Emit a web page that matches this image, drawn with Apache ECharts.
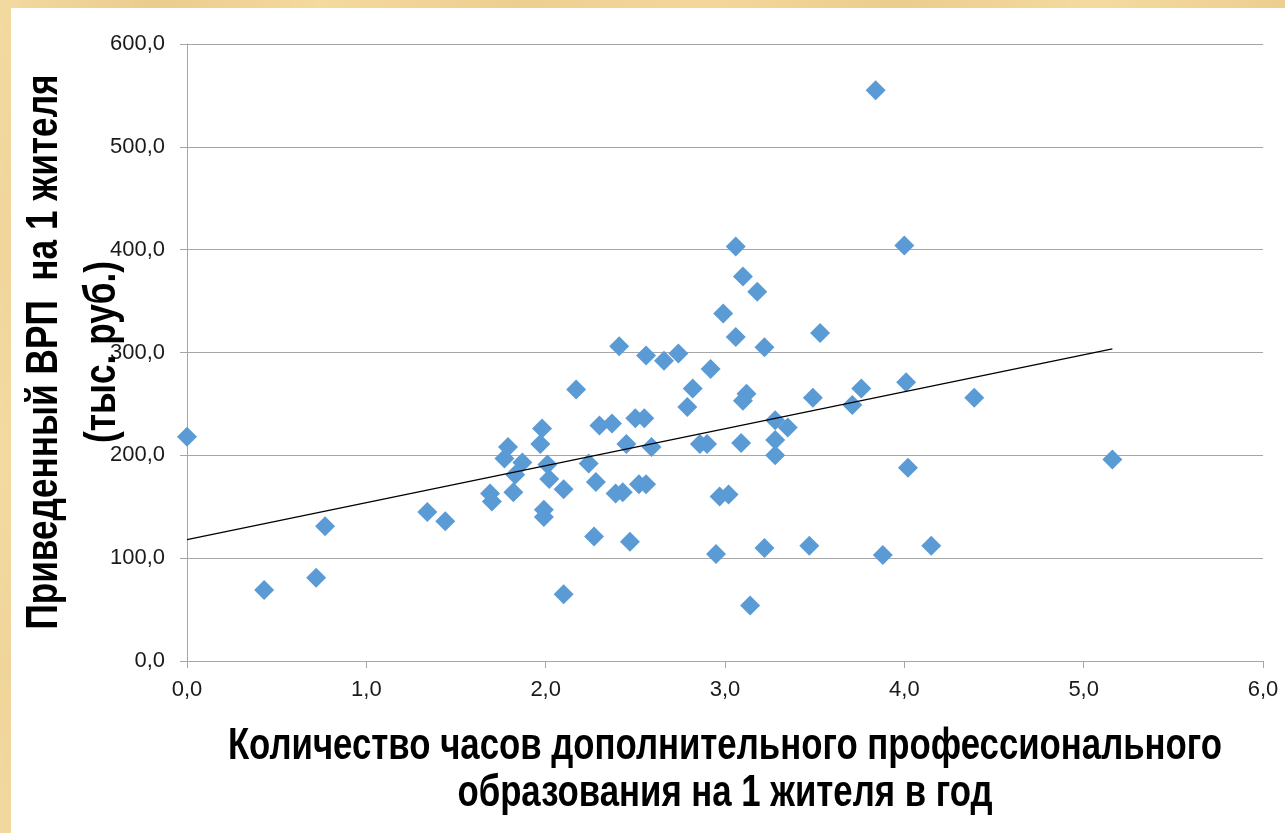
<!DOCTYPE html>
<html>
<head>
<meta charset="utf-8">
<script src="https://cdn.jsdelivr.net/npm/echarts@6/dist/echarts.min.js"></script>
<style>
html,body{margin:0;padding:0;width:1285px;height:833px;overflow:hidden;}
body{background:#ecd097;
background-image:
 linear-gradient(90deg, rgba(245,222,165,0.6) 0%, rgba(225,190,120,0.35) 12%, rgba(250,225,160,0.5) 25%, rgba(230,195,125,0.3) 40%, rgba(248,220,155,0.5) 55%, rgba(228,192,120,0.35) 70%, rgba(250,226,165,0.5) 85%, rgba(232,198,130,0.4) 100%),
 linear-gradient(0deg, rgba(240,210,150,0.5) 0%, rgba(225,188,118,0.35) 20%, rgba(245,220,160,0.45) 45%, rgba(228,192,125,0.35) 70%, rgba(242,215,155,0.5) 100%);}
#paper{position:absolute;left:11px;top:8px;right:0;bottom:0;background:#fff;}
#chart{position:absolute;left:0;top:0;width:1285px;height:833px;}
</style>
</head>
<body>
<div id="paper"></div>
<div id="chart"></div>
<script>
// Hours of additional professional education per inhabitant per year
const xValues = [0.00,0.43,0.72,0.77,1.34,1.44,1.69,1.70,1.77,1.79,1.83,1.82,1.87,1.97,1.98,1.99,1.99,2.01,2.02,2.10,2.10,2.17,2.24,2.28,2.27,2.30,2.37,2.39,2.41,2.43,2.45,2.47,2.50,2.52,2.55,2.56,2.56,2.59,2.66,2.74,2.79,2.82,2.86,2.90,2.92,2.95,2.99,2.97,3.02,3.06,3.06,3.09,3.10,3.10,3.12,3.14,3.18,3.22,3.22,3.28,3.28,3.28,3.35,3.47,3.49,3.53,3.71,3.76,3.84,3.88,4.00,4.01,4.02,4.15,4.39,5.16];
// Adjusted GRP per inhabitant (thousand rubles)
const yValues = [218,69,81,131,145,136,163,155,197,208,181,164,193,211,226,140,147,191,177,167,65,264,192,174,121,229,231,163,306,164,211,116,236,172,236,172,297,208,292,299,247,265,211,211,284,104,338,160,162,403,315,212,374,253,260,54,359,305,110,234,215,200,227,112,256,319,249,265,555,103,404,271,188,112,256,196];
// Linear trend line endpoints
const trendX = [0, 5.16];
const trendY = [118, 303.5];
const xTicks = [0,1,2,3,4,5,6];
const yTicks = [0,100,200,300,400,500,600];

const points = xValues.map((x,i)=>[x, yValues[i]]);
const trend = trendX.map((x,i)=>[x, trendY[i]]);
const fmt = v => v.toFixed(1).replace('.', ',');
const labelFont = '"Liberation Sans", Arial, sans-serif';

const chart = echarts.init(document.getElementById('chart'), null, {renderer:'canvas'});
chart.setOption({
  backgroundColor: 'transparent',
  animation: false,
  grid: {left:187, right:22, top:44, bottom:172},
  xAxis: {
    type:'value', min:xTicks[0], max:xTicks[xTicks.length-1], interval:1,
    axisLine:{show:true, onZero:false, lineStyle:{color:'#a6a6a6', width:1}},
    axisTick:{show:true, length:7, lineStyle:{color:'#a6a6a6'}},
    splitLine:{show:false},
    axisLabel:{formatter:fmt, color:'#1a1a1a', fontSize:22, fontFamily:labelFont, margin:18}
  },
  yAxis: {
    type:'value', min:yTicks[0], max:yTicks[yTicks.length-1], interval:100,
    axisLine:{show:true, lineStyle:{color:'#a6a6a6', width:1}},
    axisTick:{show:true, length:7, lineStyle:{color:'#a6a6a6'}},
    splitLine:{show:true, lineStyle:{color:'#a6a6a6', width:1}},
    axisLabel:{formatter:fmt, color:'#1a1a1a', fontSize:22, fontFamily:labelFont, margin:22}
  },
  series: [
    {type:'scatter', data:points, symbol:'diamond', symbolSize:20,
     itemStyle:{color:'#5b9bd5', opacity:1}, z:3},
    {type:'line', data:trend, symbol:'none', lineStyle:{color:'#000', width:1.3}, z:4, silent:true}
  ],
  graphic: [
    {type:'text', x:74, y:352, rotation:Math.PI/2, scaleX:0.80, z:10,
     style:{text:'Приведенный ВРП  на 1 жителя\n(тыс. руб.)', textAlign:'center', textVerticalAlign:'middle',
            font:'bold 44px ' + labelFont, lineHeight:58, fill:'#000'}},
    {type:'text', x:725, y:770, scaleX:0.79, z:10,
     style:{text:'Количество часов дополнительного профессионального\nобразования на 1 жителя в год', textAlign:'center', textVerticalAlign:'middle',
            font:'bold 44px ' + labelFont, lineHeight:47, fill:'#000'}}
  ]
});
</script>
</body>
</html>
